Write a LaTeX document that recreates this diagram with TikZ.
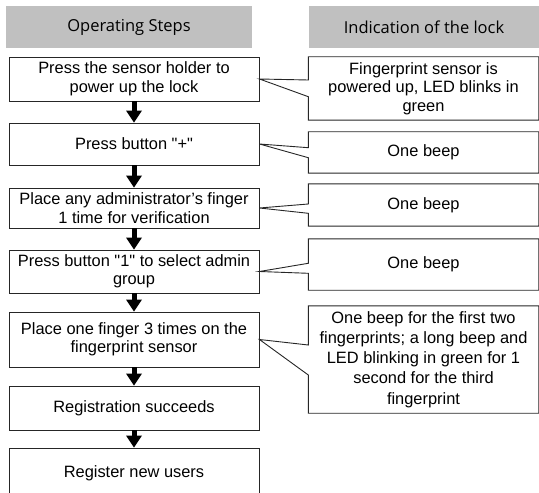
\documentclass[tikz,border=0pt]{standalone}
\usepackage{fontspec}
\setmainfont{Liberation Sans}[Ligatures=TeXOff]
\newfontfamily\hdfont{Open Sans}
\usetikzlibrary{arrows.meta}
\definecolor{hdgray}{RGB}{192,192,192}
\begin{document}
\begin{tikzpicture}[x=1bp,y=-1bp,
  hdbox/.style={fill=hdgray,draw=none,minimum height=42bp,inner sep=0pt,font=\hdfont\fontsize{16.5bp}{19bp}\selectfont,text=black},
  lbox/.style={draw=black!85,line width=0.9bp,minimum width=250bp,inner sep=0pt,align=center,font=\fontsize{16.4bp}{18.5bp}\selectfont},
  rbox/.style={draw=none,minimum width=230bp,inner sep=0pt,align=center,font=\fontsize{16.4bp}{18.5bp}\selectfont},
  callout/.style={draw=black!85,line width=0.9bp,line join=miter},
  flowarrow/.style={line width=5bp,-{Triangle[width=16bp,length=12bp,line width=0pt]}}]
\useasboundingbox (0,0) rectangle (539,493);
\begin{scope}
\clip (0,0) rectangle (539,493);
% headers
\node[hdbox,minimum width=246bp] (h1) at (129,27) {Operating Steps};
\node[hdbox,minimum width=230bp] (h2) at (424,27) {Indication of the lock};
% left boxes
\node[lbox,minimum height=44bp] (l1) at (134,79) {Press the sensor holder to\\power up the lock};
\node[lbox,minimum height=42bp] (l2) at (134,144) {Press button "+"};
\node[lbox,minimum height=40bp] (l3) at (134,208) {Place any administrator’s finger\\1 time for verification};
\node[lbox,minimum height=43bp] (l4) at (134,271.5) {Press button "1" to select admin\\group};
\node[lbox,minimum height=55bp] (l5) at (134,339.5) {Place one finger 3 times on the\\fingerprint sensor};
\node[lbox,minimum height=44bp] (l6) at (134,408) {Registration succeeds};
\node[lbox,minimum height=48bp,text depth=0pt] (l7) at (134,472) {Register new users};
% right boxes (callouts)
\node[rbox,minimum height=63bp] (r1) at (423.5,88.5) {Fingerprint sensor is\\powered up, LED blinks in\\green};
\node[rbox,minimum height=41bp] (r2) at (423.5,152.5) {One beep};
\node[rbox,minimum height=42bp] (r3) at (423.5,205) {One beep};
\node[rbox,minimum height=51bp] (r4) at (423.5,264.5) {One beep};
\node[rbox,minimum height=107bp,font=\fontsize{16.4bp}{20.2bp}\selectfont] (r5) at (423.5,359.5) {One beep for the first two\\fingerprints; a long beep and\\LED blinking in green for 1\\second for the third\\fingerprint};
\draw[callout] (r1.north west) -- (r1.north east) -- (r1.south east) -- (r1.south west) -- (r1.west |- 0,96.7) -- (l1.east) -- (r1.west |- 0,80) -- cycle;
\draw[callout] (r2.north west) -- (r2.north east) -- (r2.south east) -- (r2.south west) -- (r2.west |- 0,157.7) -- (l2.east) -- (r2.west |- 0,147.7) -- cycle;
\draw[callout] (r3.north west) -- (r3.north east) -- (r3.south east) -- (r3.south west) -- (r3.west |- 0,213.3) -- (l3.east) -- (r3.west |- 0,204) -- cycle;
\draw[callout] (r4.north west) -- (r4.north east) -- (r4.south east) -- (r4.south west) -- (r4.west |- 0,273.3) -- (l4.east) -- (r4.west |- 0,263.3) -- cycle;
\draw[callout] (r5.north west) -- (r5.north east) -- (r5.south east) -- (r5.south west) -- (r5.west |- 0,375) -- (l5.east) -- (r5.west |- 0,345) -- cycle;
% arrows
\draw[flowarrow] (l1.south) -- (l2.north);
\draw[flowarrow] (l2.south) -- (l3.north);
\draw[flowarrow] (l3.south) -- (l4.north);
\draw[flowarrow] (l4.south) -- (l5.north);
\draw[flowarrow] (l5.south) -- (l6.north);
\draw[flowarrow] (l6.south) -- (l7.north);
\end{scope}
\end{tikzpicture}
\end{document}
